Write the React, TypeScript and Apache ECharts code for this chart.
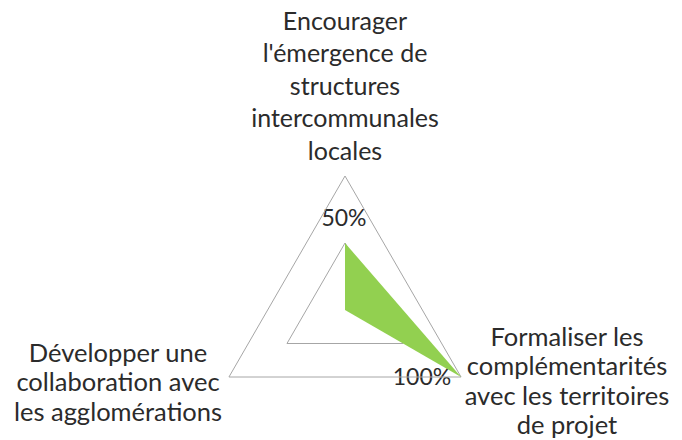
import React, { useEffect, useRef } from "react";
import * as echarts from "echarts";

const indicators = [
  "Encourager\nl'émergence de\nstructures\nintercommunales\nlocales",
  "Développer une\ncollaboration avec\nles agglomérations",
  "Formaliser les\ncomplémentarités\navec les territoires\nde projet",
];
const values = [50, 0, 100];
const tickLabels = ["50%", "100%"];

const FONT = "Lato, 'Noto Sans', sans-serif";
const TXT = "#2b2b2b";

export default function App() {
  const ref = useRef<HTMLDivElement>(null);
  useEffect(() => {
    if (!ref.current) return;
    const chart = echarts.init(ref.current, undefined, { renderer: "svg" });
    chart.setOption({
      animation: false,
      backgroundColor: "#ffffff",
      radar: {
        center: [345, 310],
        radius: 134,
        startAngle: 90,
        shape: "polygon",
        splitNumber: 2,
        indicator: indicators.map((n) => ({ name: n, max: 100, min: 0 })),
        axisName: { show: false },
        axisLine: { show: false },
        axisTick: { show: false },
        axisLabel: { show: false },
        splitArea: { show: false },
        splitLine: { lineStyle: { color: "#a6a6a6", width: 1 } },
      },
      series: [
        {
          type: "radar",
          symbol: "none",
          lineStyle: { width: 0, opacity: 0 },
          areaStyle: { color: "#92d050", opacity: 1 },
          data: [{ value: values }],
        },
      ],
      graphic: [
        {
          type: "text",
          x: 345,
          y: 166,
          style: {
            text: indicators[0],
            font: `25px ${FONT}`,
            fill: TXT,
            align: "center",
            verticalAlign: "bottom",
            lineHeight: 32.5,
          },
        },
        {
          type: "text",
          x: 118,
          y: 381,
          style: {
            text: indicators[1],
            font: `25.5px ${FONT}`,
            fill: TXT,
            align: "center",
            verticalAlign: "middle",
            lineHeight: 29.5,
          },
        },
        {
          type: "text",
          x: 567,
          y: 380,
          style: {
            text: indicators[2],
            font: `25.5px ${FONT}`,
            fill: TXT,
            align: "center",
            verticalAlign: "middle",
            lineHeight: 29.5,
          },
        },
        {
          type: "text",
          x: 344,
          y: 217,
          style: {
            text: tickLabels[0],
            font: `23px ${FONT}`,
            fill: TXT,
            align: "center",
            verticalAlign: "middle",
          },
        },
        {
          type: "text",
          x: 422,
          y: 376,
          style: {
            text: tickLabels[1],
            font: `23px ${FONT}`,
            fill: TXT,
            align: "center",
            verticalAlign: "middle",
          },
        },
      ],
    });
    return () => chart.dispose();
  }, []);
  return <div ref={ref} style={{ width: 682, height: 440, position: "absolute", left: 0, top: 0 }} />;
}
